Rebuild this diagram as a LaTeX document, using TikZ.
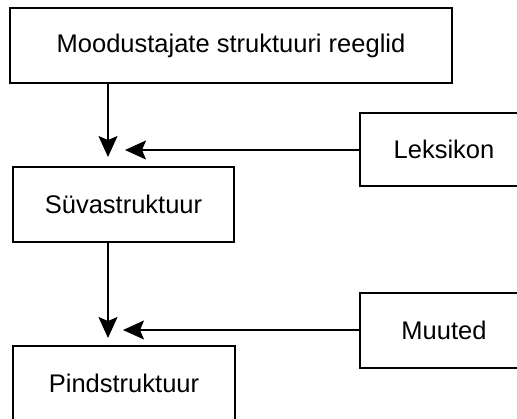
\documentclass[tikz,border=0pt]{standalone}
\usepackage{fontspec}
\setmainfont{Liberation Sans}
\usetikzlibrary{arrows.meta}
\begin{document}
\begin{tikzpicture}[x=1pt,y=-1pt,
  box/.style={draw=black, line width=1.6pt, rectangle, inner sep=0pt,
    font=\fontsize{25.5}{30}\selectfont, text=black},
  flow/.style={draw=black, line width=1.4pt,
    -{Stealth[length=21pt,width=19pt,inset=4pt]}}]
  \useasboundingbox (0,0) rectangle (517,418);
  % boxes
  \node[box, minimum width=442pt, minimum height=75pt] (rules) at (231,45.5) {Moodustajate struktuuri reeglid};
  \node[box, minimum width=168pt, minimum height=73pt] (lex) at (444,149.5) {Leksikon};
  \node[box, minimum width=221pt, minimum height=75pt] (deep) at (123.5,204.5) {Süvastruktuur};
  \node[box, minimum width=168pt, minimum height=75pt] (trans) at (444,330.5) {Muuted};
  \node[box, minimum width=222pt, minimum height=75pt] (surf) at (124,383.5) {Pindstruktuur};
  % arrow end points
  \coordinate (j1) at (108,157);
  \coordinate (k1) at (125,150);
  \coordinate (j2) at (108,338);
  \coordinate (k2) at (123,330);
  % connectors
  \draw[flow] (rules.south -| j1) -- (j1);
  \draw[flow] (lex.west |- k1) -- (k1);
  \draw[flow] (deep.south -| j2) -- (j2);
  \draw[flow] (trans.west |- k2) -- (k2);
\end{tikzpicture}
\end{document}
